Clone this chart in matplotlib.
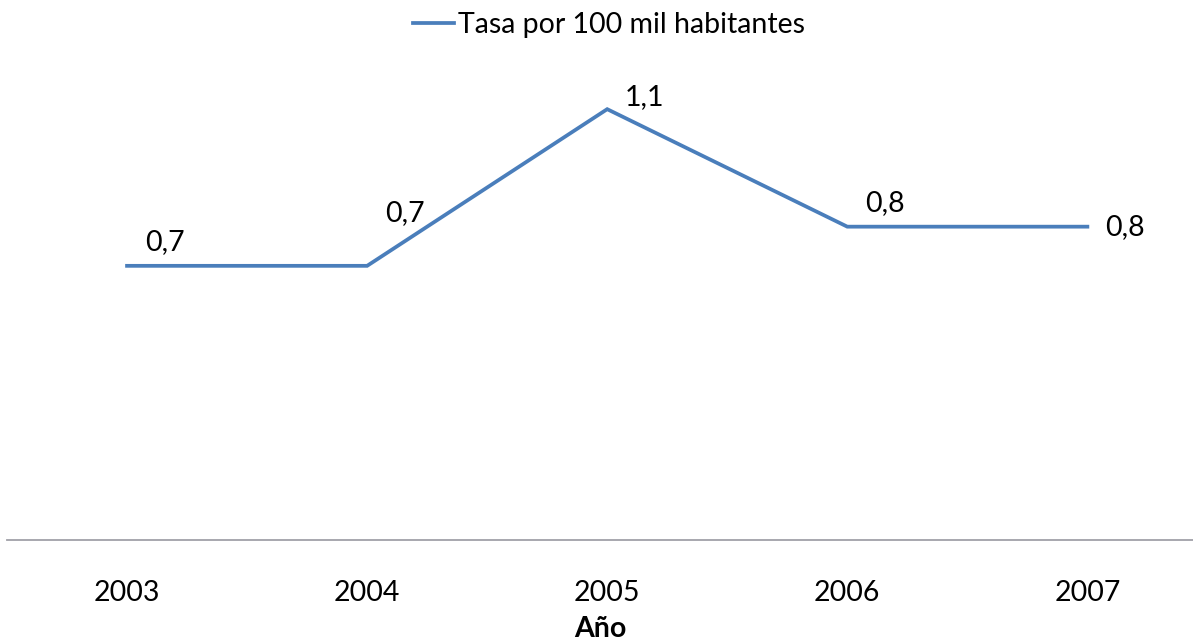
import matplotlib.pyplot as plt

years = ["2003", "2004", "2005", "2006", "2007"]
tasa = [0.70, 0.70, 1.10, 0.80, 0.80]
labels = ["0,7", "0,7", "1,1", "0,8", "0,8"]
# label offsets (pixels up from the point)
label_dy = [24, 53, 12, 24, 0]

plt.rcParams['font.family'] = ['Lato', 'DejaVu Sans']
fs = 20.5

fig = plt.figure(figsize=(11.93, 6.42), dpi=100)
ax = fig.add_axes([7 / 1193, 102 / 642, 1 - 7 / 1193, 470 / 642])

x = list(range(len(years)))
line, = ax.plot(x, tasa, color="#4a7ebb", lw=2.7, solid_joinstyle="miter",
                label="Tasa por 100 mil habitantes")

for xi, yi, lab, dy in zip(x, tasa, labels, label_dy):
    ax.annotate(lab, (xi, yi), xytext=(18, dy), textcoords="offset pixels",
                ha="left", va="center", fontsize=fs, color="black")

ax.set_xlim(-0.5, 4.44)
ax.set_ylim(0, 1.2)
ax.set_xticks(x)
ax.set_xticklabels(years, fontsize=fs)
ax.tick_params(axis="x", length=0, pad=29)
ax.set_yticks([])
for s in ["top", "right", "left"]:
    ax.spines[s].set_visible(False)
ax.spines["bottom"].set_color("#a0a0a8")
ax.spines["bottom"].set_linewidth(1.3)
ax.set_xlabel("Año", fontsize=fs, fontweight="bold", labelpad=7)

fig.legend(handles=[line], loc="center", bbox_to_anchor=(609 / 1193, 1 - 25 / 642),
           frameon=False, fontsize=fs, handlelength=1.45, handletextpad=0.15)

fig.savefig("out.png", dpi=100)
